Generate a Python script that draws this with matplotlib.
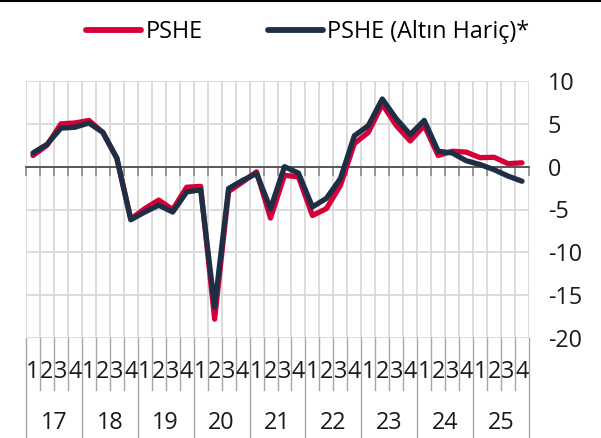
import numpy as np
import matplotlib
matplotlib.use("Agg")
import matplotlib.pyplot as plt
from matplotlib.lines import Line2D

plt.rcParams['font.family'] = ['Open Sans', 'DejaVu Sans']
plt.rcParams['axes.unicode_minus'] = False

years = ['17', '18', '19', '20', '21', '22', '23', '24', '25']
quarters = ['1', '2', '3', '4']

pshe = [1.3, 2.5, 5.0, 5.1, 5.4, 4.0, 1.0, -6.1, -4.9, -3.9, -5.0, -2.4,
        -2.3, -17.8, -2.9, -1.8, -0.6, -6.0, -1.0, -1.2, -5.7, -4.9, -2.2, 2.7,
        4.0, 7.3, 4.8, 3.0, 4.8, 1.3, 1.8, 1.7, 1.05, 1.1, 0.35, 0.45]
pshe_ex_gold = [1.6, 2.6, 4.5, 4.6, 5.1, 4.0, 1.0, -6.2, -5.3, -4.5, -5.3, -2.95,
                -2.7, -16.4, -2.55, -1.6, -0.8, -4.9, 0.0, -0.75, -4.7, -3.7, -1.4, 3.6,
                4.8, 7.9, 5.6, 3.75, 5.4, 1.8, 1.6, 0.7, 0.25, -0.35, -1.1, -1.7]

red = '#D50037'
navy = '#1E2F45'
grid_c = '#D9D9D9'
sep_c = '#A6A6A6'
fs = 16.8

W, H = 601, 438
fig = plt.figure(figsize=(W / 100, H / 100), dpi=100)
ax = fig.add_axes([26 / W, (H - 338) / H, (529 - 26) / W, (338 - 81) / H])

n = len(pshe)
x = np.arange(n) + 0.5
ax.plot(x, pshe, color=red, lw=3.8, solid_capstyle='round', zorder=3, label='PSHE')
ax.plot(x, pshe_ex_gold, color=navy, lw=3.8, solid_capstyle='round', zorder=4,
        label='PSHE (Altın Hariç)*')

ax.set_xlim(0, n)
ax.set_ylim(-20, 10)
ax.set_yticks([10, 5, 0, -5, -10, -15, -20])
ax.set_xticks(np.arange(n + 1))
ax.set_xticklabels([])
ax.grid(True, color=grid_c, lw=1.3, zorder=0)
ax.set_axisbelow(True)

for s in ['top', 'left', 'right']:
    ax.spines[s].set_visible(False)
ax.spines['bottom'].set_position(('data', 0))
ax.spines['bottom'].set_color('#404040')
ax.spines['bottom'].set_linewidth(1.2)
ax.spines['bottom'].set_zorder(2)
ax.tick_params(axis='x', direction='out', length=6.5, width=1.2, color='#8C8C8C')
ax.yaxis.tick_right()
ax.tick_params(axis='y', length=0, pad=13.5, labelsize=fs, labelcolor='#1a1a1a')

# category label area under the plot
tr = ax.get_xaxis_transform()
for i in range(n + 1):
    y_low = -0.389 if i % 4 == 0 else -0.202
    ax.plot([i, i], [0, y_low], color=sep_c, lw=1, transform=tr, clip_on=False)
for i in range(n):
    ax.text(x[i], -0.132, quarters[i % 4], transform=tr, ha='center', va='center',
            fontsize=fs, color='#1a1a1a')
for k, yr in enumerate(years):
    ax.text(4 * k + 2, -0.331, yr, transform=tr, ha='center', va='center',
            fontsize=fs, color='#1a1a1a')

leg = fig.legend(loc='center', bbox_to_anchor=(0.512, 1 - 32 / H), ncol=2,
                 frameon=False, fontsize=fs, handlelength=2.36, handletextpad=0.17,
                 columnspacing=2.8)
for h in leg.get_lines():
    h.set_linewidth(4.2)

fig.add_artist(Line2D([0, 1], [1 - 0.8 / H, 1 - 0.8 / H], color='black', lw=1.5,
                      transform=fig.transFigure))

fig.savefig('out.png', dpi=100)
